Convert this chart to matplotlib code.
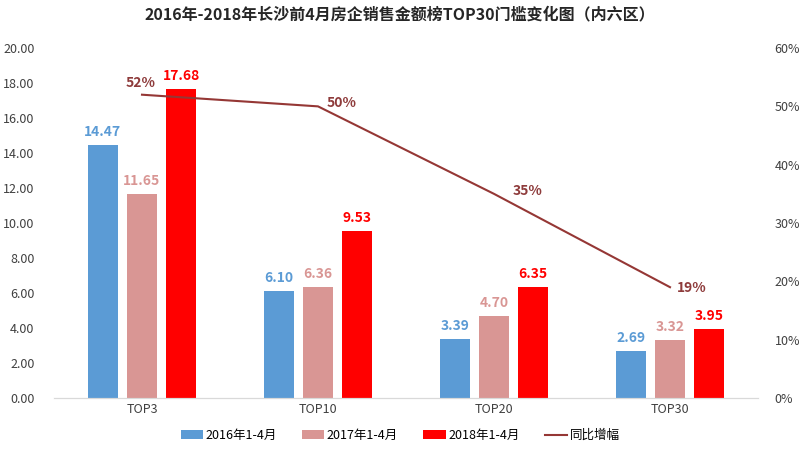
import numpy as np
import matplotlib.pyplot as plt

plt.rcParams['font.family'] = ['Noto Sans CJK SC', 'DejaVu Sans']

categories = ["TOP3", "TOP10", "TOP20", "TOP30"]
v2016 = [14.47, 6.10, 3.39, 2.69]
v2017 = [11.65, 6.36, 4.70, 3.32]
v2018 = [17.68, 9.53, 6.35, 3.95]
growth = [0.52, 0.50, 0.35, 0.19]
series_names = ["2016年1-4月", "2017年1-4月", "2018年1-4月", "同比增幅"]

c16, c17, c18, cline = "#5B9BD5", "#D99694", "#FF0000", "#953735"

fig = plt.figure(figsize=(8, 4.49), dpi=100)
ax = fig.add_axes([0.0675, 0.1136, 0.88, 0.7794])
ax2 = ax.twinx()

x = np.arange(len(categories))
w = 0.174
off = 0.222
b1 = ax.bar(x - off, v2016, w, color=c16, label=series_names[0], zorder=2)
b2 = ax.bar(x, v2017, w, color=c17, label=series_names[1], zorder=2)
b3 = ax.bar(x + off, v2018, w, color=c18, label=series_names[2], zorder=2)

for bars, vals, col in [(b1, v2016, c16), (b2, v2017, c17), (b3, v2018, c18)]:
    for b, v in zip(bars, vals):
        ax.text(b.get_x() + b.get_width() / 2, v + 0.35, f"{v:.2f}",
                ha="center", va="bottom", color=col, fontsize=10, fontweight="bold", zorder=3)

ln, = ax2.plot(x, growth, color=cline, lw=1.5, label=series_names[3])
offsets = [(-0.01, 0.02), (0.135, 0.006), (0.19, 0.005), (0.125, -0.002)]
for xi, g, (dx, dy) in zip(x, growth, offsets):
    ax2.text(xi + dx, g + dy, f"{g:.0%}", ha="center", va="center",
             color="#8E3B3B", fontsize=10, fontweight="bold")

ax.set_xlim(-0.5, 3.5)
ax.set_ylim(0, 20)
ax.set_yticks(np.arange(0, 20.01, 2))
ax.set_yticklabels([f"{t:.2f}" for t in np.arange(0, 20.01, 2)])
ax2.set_ylim(0, 0.6)
ax2.set_yticks(np.arange(0, 0.61, 0.1))
ax2.set_yticklabels([f"{t:.0%}" for t in np.arange(0, 0.61, 0.1)])
ax.set_xticks(x)
ax.set_xticklabels(categories)

for a in (ax, ax2):
    for s in ("top", "left", "right"):
        a.spines[s].set_visible(False)
    a.spines["bottom"].set_color("#D9D9D9")
    a.tick_params(length=0, labelsize=9, colors="#404040")
ax2.tick_params(pad=12)
ax.tick_params(axis="y", pad=14)

fig.suptitle("2016年-2018年长沙前4月房企销售金额榜TOP30门槛变化图（内六区）",
             y=0.985, fontsize=11.5, fontweight="bold", color="#262626")

fig.legend(handles=[b1, b2, b3, ln], labels=series_names, loc="lower center",
           ncol=4, frameon=False, fontsize=9, bbox_to_anchor=(0.5, -0.01),
           handlelength=1.8, handletextpad=0.2, columnspacing=2.0)

fig.savefig("out.png", dpi=100)
